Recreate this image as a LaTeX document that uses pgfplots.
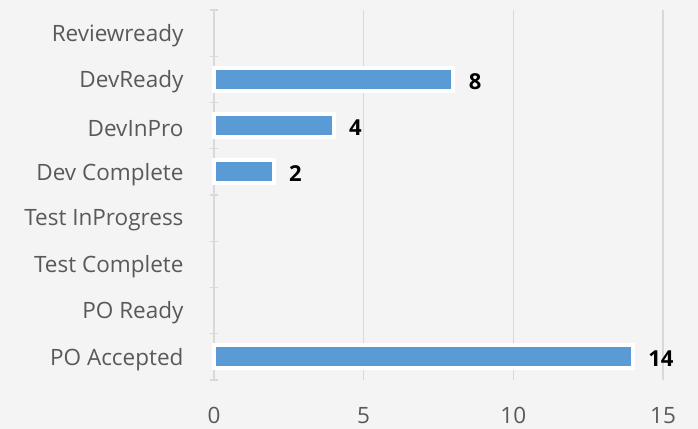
\documentclass[border=0pt]{standalone}
\usepackage{fontspec}
\setmainfont{Open Sans}
\usepackage{pgfplots}
\pgfplotsset{compat=1.18}
\definecolor{bg}{HTML}{F4F4F4}
\definecolor{barblue}{HTML}{5B9BD5}
\definecolor{txtgray}{HTML}{595959}
\definecolor{gridgray}{HTML}{D9D9D9}
\begin{document}
\begin{tikzpicture}
\fill[bg] (-214bp,-49bp) rectangle (484bp,380bp);
\begin{axis}[
  at={(0,0)}, anchor=south west,
  scale only axis,
  width=449bp, height=370bp,
  xbar,
  bar width=23bp,
  xmin=0, xmax=15,
  ymin=-0.5, ymax=7.5,
  xtick={0,5,10,15},
  ytick={0,1,2,3,4,5,6,7},
  yticklabels={PO Accepted, PO Ready, Test Complete, Test InProgress, Dev Complete, DevInPro, DevReady, Reviewready},
  minor ytick={-0.5,0.5,1.5,2.5,3.5,4.5,5.5,6.5,7.5},
  major tick length=0pt,
  minor tick length=8bp,
  tick align=outside,
  minor tick style={draw=gridgray, line width=1.2bp},
  axis lines=left,
  x axis line style={draw=none},
  y axis line style={draw=gridgray, line width=1.2bp, -},
  xmajorgrids,
  major grid style={draw=gridgray, line width=1.2bp},
  ticklabel style={font=\fontsize{22.5bp}{26bp}\selectfont, text=txtgray},
  yticklabel style={xshift=-27bp, yshift=-2.5bp},
  xticklabel style={yshift=-23.5bp},
  /pgf/number format/assume math mode=true,
  nodes near coords,
  nodes near coords style={font=\fontsize{22bp}{26bp}\selectfont\bfseries, text=black, xshift=10bp, yshift=-2bp},
  clip=false,
]
\addplot[fill=barblue, draw=white, line width=4bp] coordinates {(8,6) (4,5) (2,4) (14,0)};
\end{axis}
\end{tikzpicture}
\end{document}
